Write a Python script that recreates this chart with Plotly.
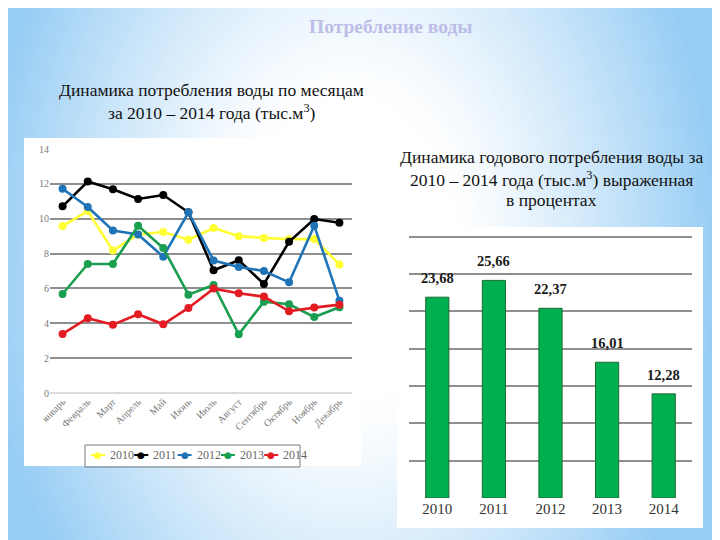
import base64, struct, zlib
import numpy as np
import plotly.graph_objects as go

# ---------------- data ----------------
months = ["январь", "Февраль", "Март", "Апрель", "Май", "Июнь", "Июль",
          "Август", "Сентябрь", "Октябрь", "Ноябрь", "Декабрь"]
series_names = ["2010", "2011", "2012", "2013", "2014"]
v2010 = [9.58, 10.44, 8.17, 9.10, 9.24, 8.80, 9.47, 9.00, 8.90, 8.82, 8.84, 7.37]
v2011 = [10.71, 12.13, 11.69, 11.13, 11.36, 10.37, 7.04, 7.61, 6.26, 8.68, 9.98, 9.77]
v2012 = [11.72, 10.67, 9.32, 9.09, 7.82, 10.37, 7.60, 7.23, 7.00, 6.35, 9.60, 5.30]
v2013 = [5.68, 7.40, 7.40, 9.60, 8.32, 5.64, 6.20, 3.37, 5.24, 5.09, 4.36, 4.92]
v2014 = [3.39, 4.29, 3.92, 4.52, 3.94, 4.88, 5.99, 5.72, 5.53, 4.69, 4.90, 5.07]
monthly = [v2010, v2011, v2012, v2013, v2014]
years = ["2010", "2011", "2012", "2013", "2014"]
annual_pct = [23.68, 25.66, 22.37, 16.01, 12.28]

colors = ["#ffff33", "#000000", "#1f74b8", "#1a9e4f", "#e31b23"]

# page has an 8px body margin: figure occupies window pixels 8..720 x 8..540
OFF = 8
W, H = 720 - OFF, 540 - OFF
def px(x): return (x - OFF) / W
def py(y): return 1 - (y - OFF) / H

# ---------------- background gradient image ----------------
def png_data_uri(arr):
    h, w, _ = arr.shape
    raw = b"".join(b"\x00" + arr[i].astype(np.uint8).tobytes() for i in range(h))
    def chunk(tag, data):
        c = struct.pack(">I", len(data)) + tag + data
        return c + struct.pack(">I", zlib.crc32(tag + data) & 0xffffffff)
    png = (b"\x89PNG\r\n\x1a\n"
           + chunk(b"IHDR", struct.pack(">IIBBBBB", w, h, 8, 2, 0, 0, 0))
           + chunk(b"IDAT", zlib.compress(raw, 9))
           + chunk(b"IEND", b""))
    return "data:image/png;base64," + base64.b64encode(png).decode()

gw, gh = 178, 133
gx = OFF + (np.arange(gw) + 0.5) / gw * W
gy = OFF + (np.arange(gh) + 0.5) / gh * H
GX, GY = np.meshgrid(gx, gy)
d = np.sqrt(((GX - 350) / 370) ** 2 + ((GY - 250) / 520) ** 2)
t = np.clip((d - 0.3) / 0.7, 0, 1) ** 1.2
edge = np.array([150, 205, 245], dtype=float)
img = 255 - t[..., None] * (255 - edge)
bg_uri = png_data_uri(np.clip(img, 0, 255))

fig = go.Figure()

# ---------------- line chart ----------------
for name, vals, c in zip(series_names, monthly, colors):
    fig.add_trace(go.Scatter(
        x=months, y=vals, name=name, mode="lines+markers",
        line=dict(color=c, width=2.6),
        marker=dict(color=c, size=8),
        xaxis="x", yaxis="y", showlegend=False))

# ---------------- bar chart ----------------
fig.add_trace(go.Bar(
    x=years, y=annual_pct, xaxis="x2", yaxis="y2",
    marker=dict(color="#00b050", line=dict(color="#1d6a32", width=1)),
    showlegend=False))

annotations = []
for i, v in enumerate(annual_pct):
    annotations.append(dict(
        x=i, y=v, xref="x2", yref="y2", text="<b>" + f"{v:.2f}".replace(".", ",") + "</b>",
        showarrow=False, xanchor="center", yanchor="bottom", yshift=9,
        font=dict(family="Liberation Serif", size=14.5, color="#1a1a1a")))

def title(x, y, text, size=17.5, color="#111111"):
    return dict(x=px(x), y=py(y), xref="paper", yref="paper", text=text,
                xanchor="center", yanchor="middle", showarrow=False,
                font=dict(family="Liberation Serif", size=size, color=color))

annotations += [
    title(391, 26, "<b>Потребление воды</b>", 19.5, "#bdbde8"),
    title(211, 90, "Динамика потребления воды по месяцам"),
    title(212, 112, "за 2010 – 2014 года (тыс.м<sup>3</sup>)"),
    title(551, 157, "Динамика годового потребления воды за"),
    title(551, 179, "2010 – 2014 года (тыс.м<sup>3</sup>) выраженная"),
    title(551, 200, "в процентах"),
]

shapes = [
    dict(type="rect", xref="paper", yref="paper", x0=px(24), x1=px(361), y0=py(466), y1=py(138),
         fillcolor="white", line=dict(width=0), layer="below"),
    dict(type="rect", xref="paper", yref="paper", x0=px(397), x1=px(703), y0=py(528), y1=py(227),
         fillcolor="white", line=dict(width=0), layer="below"),
    dict(type="rect", xref="paper", yref="paper", x0=px(85), x1=px(300), y0=py(467), y1=py(445),
         fillcolor="rgba(0,0,0,0)", line=dict(color="#7a7a7a", width=1)),
]

# compact legend (one entry per series)
for i, (name, c) in enumerate(zip(series_names, colors)):
    x0 = 108 + i * 43.3
    shapes.append(dict(type="line", xref="paper", yref="paper",
                       x0=px(x0 - 17), x1=px(x0 - 3), y0=py(455), y1=py(455),
                       line=dict(color=c, width=2)))
    annotations.append(dict(
        x=px(x0 - 10), y=py(455), xref="paper", yref="paper", xanchor="center", yanchor="middle",
        text="●", showarrow=False,
        font=dict(family="DejaVu Sans", size=9, color=c)))
    annotations.append(dict(
        x=px(x0), y=py(455), xref="paper", yref="paper", xanchor="left", yanchor="middle",
        text=name, showarrow=False,
        font=dict(family="Liberation Serif", size=12, color="#666666")))

bar_top_val = 31.5
bar_zero_px = 498.0
bar_ppu = 8.48

fig.update_layout(
    width=W, height=H,
    margin=dict(l=0, r=0, t=0, b=0, pad=0),
    paper_bgcolor="white", plot_bgcolor="rgba(0,0,0,0)",
    images=[dict(source=bg_uri, xref="paper", yref="paper", x=0, y=1, sizex=1, sizey=1,
                 sizing="stretch", xanchor="left", yanchor="top", layer="below")],
    shapes=shapes, annotations=annotations,
    bargap=0.59,
    xaxis=dict(domain=[px(50), px(352)], type="category", range=[-0.5, 11.5], automargin=False,
               showgrid=False, zeroline=False, showline=False, ticks="",
               tickangle=-45, tickfont=dict(family="Liberation Serif", size=10, color="#7a7a7a")),
    yaxis=dict(domain=[py(393), py(149)], range=[0, 14], dtick=2, automargin=False,
               showgrid=True, gridcolor="#8f8f8f", gridwidth=1.5,
               zeroline=True, zerolinecolor="#dcdcdc", zerolinewidth=1.5,
               showline=False, ticks="",
               tickfont=dict(family="Liberation Serif", size=10, color="#7a7a7a")),
    xaxis2=dict(domain=[px(409), px(692)], type="category", range=[-0.5, 4.5], automargin=False,
                anchor="y2", showgrid=False, zeroline=False, showline=False, ticks="",
                tickfont=dict(family="Liberation Serif", size=15, color="#333333")),
    yaxis2=dict(domain=[py(bar_zero_px), py(bar_zero_px - bar_top_val * bar_ppu)],
                range=[0, bar_top_val], anchor="x2", automargin=False,
                tickmode="array", tickvals=[4.4 * k for k in range(1, 8)],
                showticklabels=False, showgrid=True, gridcolor="#8f8f8f", gridwidth=1.5,
                zeroline=False, showline=False, ticks=""),
)

fig.write_html("out.html")
